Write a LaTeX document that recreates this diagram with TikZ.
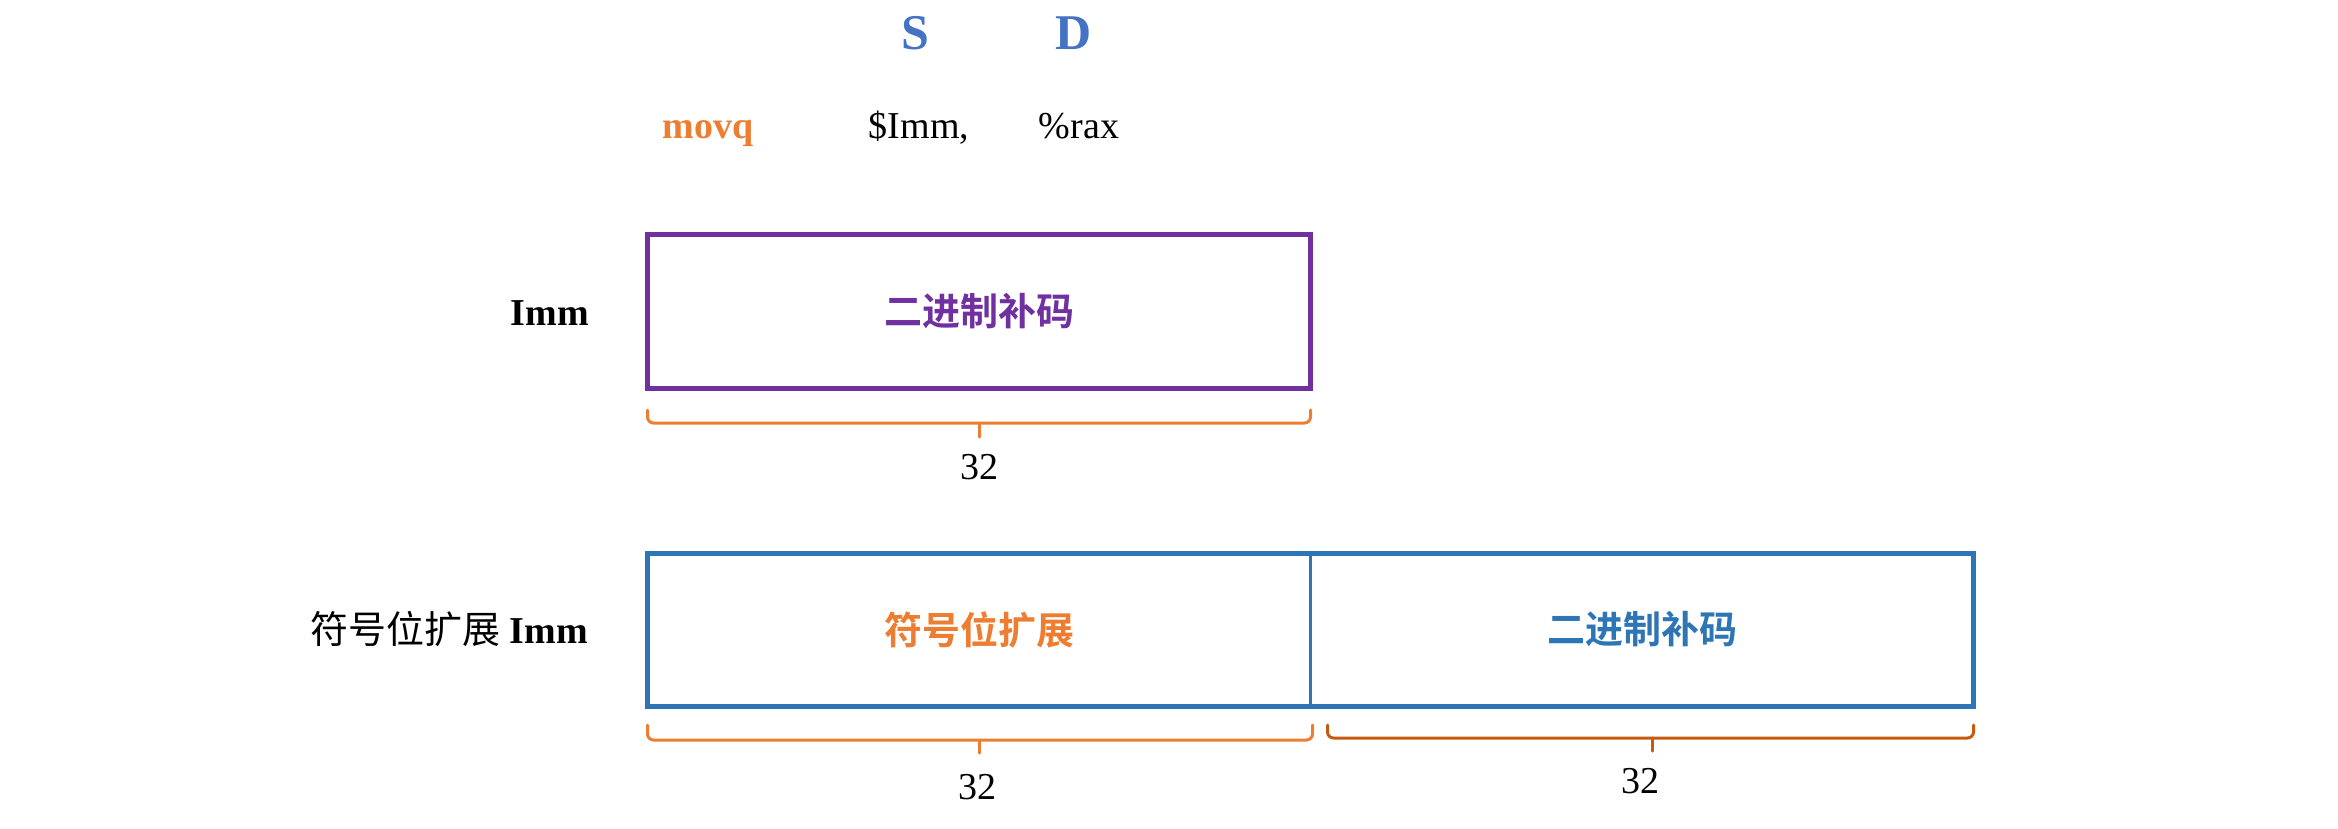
\documentclass[tikz,border=0pt]{standalone}
\usepackage{fontspec}
\setmainfont{Liberation Serif}
\newfontfamily\cjk{Noto Sans CJK SC}
\newfontfamily\cjkb{Noto Sans CJK SC Bold}
\usetikzlibrary{calc}
\definecolor{cpurple}{HTML}{7030A0}
\definecolor{cblue}{HTML}{2E75B6}
\definecolor{csd}{HTML}{4472C4}
\definecolor{corange}{HTML}{ED7D31}
\definecolor{cdorange}{HTML}{C55A11}
\tikzset{
  lbl/.style={inner sep=0pt, font=\fontsize{38}{44}\selectfont},
  blbl/.style={inner sep=0pt, font=\fontsize{38}{44}\selectfont\bfseries},
  sdlbl/.style={inner sep=0pt, text=csd, font=\fontsize{50}{58}\selectfont\bfseries},
  field/.style={line width=5pt, minimum width=663pt, inner sep=0pt, outer sep=0pt, font=\fontsize{38}{44}\cjkb},
  bracestyle/.style={line width=3pt, rounded corners=6pt, line cap=round},
}
\begin{document}
\begin{tikzpicture}[x=1pt, y=-1pt]
\useasboundingbox (0,0) rectangle (2338,828);
% header
\node[sdlbl, anchor=base] (s) at (915,49) {S};
\node[sdlbl, anchor=base] (d) at (1074,49) {D};
\node[blbl, anchor=base, text=corange] (movq) at (708,138) {movq};
\node[lbl, anchor=base] (src) at (919,138) {\$Imm,};
\node[lbl, anchor=base] (dst) at (1079,138) {\%rax};
% Imm row
\node[field, draw=cpurple, text=cpurple, minimum height=154pt] (imm) at (979,311) {二进制补码};
\node[blbl, anchor=base east] (immlbl) at (589,325) {Imm};
\draw[bracestyle, corange] ([yshift=-22pt]imm.south west) -- ([yshift=-35pt]imm.south west) -- ([yshift=-35pt]imm.south east) -- ([yshift=-22pt]imm.south east);
\draw[bracestyle, corange] ([yshift=-35pt]imm.south) -- ([yshift=-49pt]imm.south);
\node[lbl, anchor=base] (w1) at (979,479) {32};
% extended row
\node[field, text=corange, minimum height=153pt] (ext) at (979,629.5) {符号位扩展};
\node[field, text=cblue, minimum height=153pt, anchor=west] (low) at (ext.east) {二进制补码};
\draw[cblue, line width=5pt] (ext.north west) rectangle (low.south east);
\draw[cblue, line width=3pt] (ext.north east) -- (ext.south east);
\node[anchor=base east, inner sep=0pt, font=\fontsize{38}{44}\selectfont] (extlbl) at (588,643) {{\cjk 符号位扩展} {\bfseries Imm}};
\draw[bracestyle, corange] ([yshift=-19pt]ext.south west) -- ([yshift=-34pt]ext.south west) -- ([xshift=2pt,yshift=-34pt]ext.south east) -- ([xshift=2pt,yshift=-19pt]ext.south east);
\draw[bracestyle, corange] ([yshift=-34pt]ext.south) -- ([yshift=-47pt]ext.south);
\draw[bracestyle, cdorange] ([xshift=17pt,yshift=-19pt]low.south west) -- ([xshift=17pt,yshift=-32pt]low.south west) -- ([yshift=-32pt]low.south east) -- ([yshift=-19pt]low.south east);
\draw[bracestyle, cdorange] ([xshift=10pt,yshift=-32pt]low.south) -- ([xshift=10pt,yshift=-45pt]low.south);
\node[lbl, anchor=base] (w2) at (977,799) {32};
\node[lbl, anchor=base] (w3) at (1640,793) {32};
\end{tikzpicture}
\end{document}
